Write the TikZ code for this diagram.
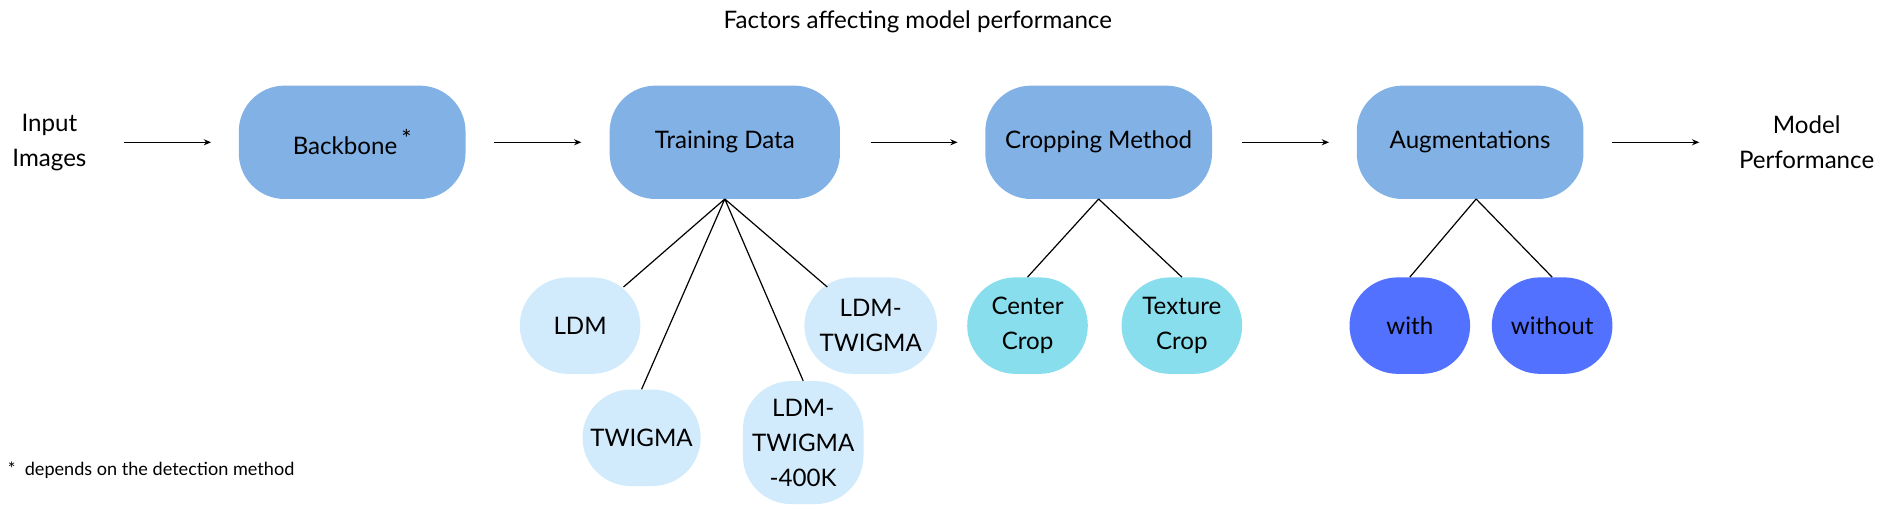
\documentclass[tikz,border=0pt]{standalone}
\usepackage{fontspec}
\setmainfont{Lato}
\usetikzlibrary{arrows.meta}
\definecolor{mainc}{HTML}{82B1E6}
\definecolor{lightc}{HTML}{D2EBFC}
\definecolor{cyanc}{HTML}{88DEEC}
\definecolor{bluec}{HTML}{5371FF}
\begin{document}
\begin{tikzpicture}[x=1pt,y=-1pt,
  every node/.style={font=\fontsize{20}{29}\selectfont},
  main/.style={fill=mainc,rounded corners=38pt,minimum width=188pt,minimum height=94pt,inner sep=0pt},
  child/.style={rounded corners=40pt,minimum width=100pt,minimum height=80pt,inner sep=0pt,align=center},
  lt/.style={child,fill=lightc},
  cy/.style={child,fill=cyanc},
  bl/.style={child,fill=bluec},
  arr/.style={-{Stealth[length=6pt,width=5pt]},line width=1.1pt},
  ln/.style={line width=1pt}]
\useasboundingbox (0,0) rectangle (1568,425);
\node (title) at (761,18) {Factors affecting model performance};
\node[align=center] (in) at (41,118) {Input\\Images};
\node[align=center] (out) at (1498,118) {Model\\Performance};
\node[main] (bb) at (292,118) {Backbone\,\raisebox{6pt}{*}};
\node[main,minimum width=191pt] (td) at (601,118) {Training Data};
\node[main] (cm) at (911,118) {Cropping Method};
\node[main] (au) at (1219,118) {Augmentations};
\coordinate (a1) at (103,118); \coordinate (b1) at (175,118);
\coordinate (a2) at (410,118); \coordinate (b2) at (482,118);
\coordinate (a3) at (722,118); \coordinate (b3) at (794,118);
\coordinate (a4) at (1030,118); \coordinate (b4) at (1102,118);
\coordinate (a5) at (1337,118); \coordinate (b5) at (1409,118);
\foreach \i in {1,...,5} \draw[arr] (a\i) -- (b\i);
\node[lt] (ldm) at (481,270) {LDM};
\node[lt,minimum width=110pt] (ldt) at (722,270) {LDM-\\TWIGMA};
\node[lt,minimum width=98pt] (tw) at (532,363) {TWIGMA};
\node[lt,minimum height=102pt] (l4) at (666,367) {LDM-\\TWIGMA\\-400K};
\node[cy] (cc) at (852,270) {Center\\Crop};
\node[cy] (tc) at (980,270) {Texture\\Crop};
\node[bl] (wi) at (1169,270) {with};
\node[bl] (wo) at (1287,270) {without};
\coordinate (tdb) at (601,165);
\coordinate (cmb) at (911,165);
\coordinate (aub) at (1224,165);
\draw[ln] (tdb) -- (517,238) (tdb) -- (tw.north) (tdb) -- (l4.north) (tdb) -- (686,238);
\draw[ln] (cmb) -- (cc.north) (cmb) -- (tc.north);
\draw[ln] (aub) -- (wi.north) (aub) -- (wo.north);
\node[anchor=west,font=\fontsize{15}{18}\selectfont] (fn) at (3,390) {*\ \ depends on the detection method};
\end{tikzpicture}
\end{document}
